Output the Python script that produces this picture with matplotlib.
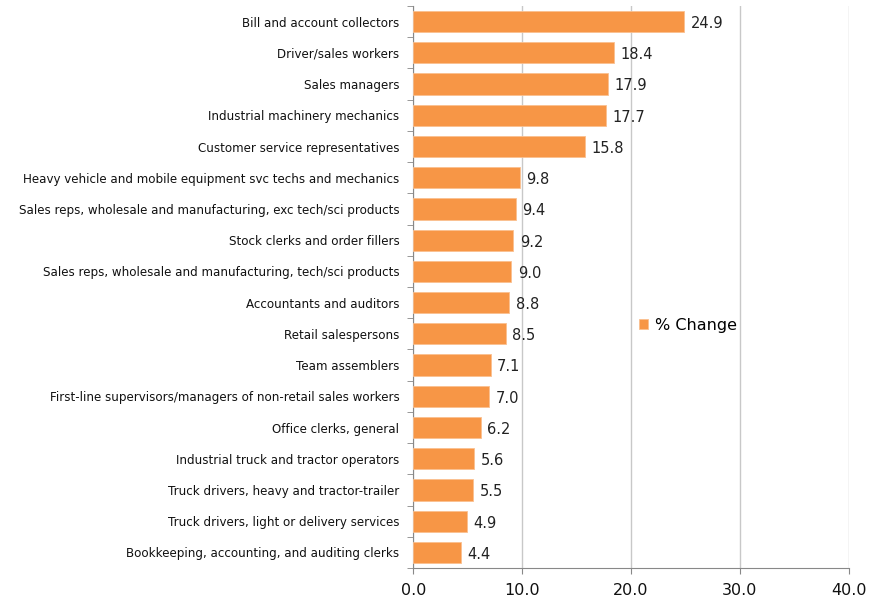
import matplotlib.pyplot as plt
import numpy as np

occupations = [
    "Bill and account collectors",
    "Driver/sales workers",
    "Sales managers",
    "Industrial machinery mechanics",
    "Customer service representatives",
    "Heavy vehicle and mobile equipment svc techs and mechanics",
    "Sales reps, wholesale and manufacturing, exc tech/sci products",
    "Stock clerks and order fillers",
    "Sales reps, wholesale and manufacturing, tech/sci products",
    "Accountants and auditors",
    "Retail salespersons",
    "Team assemblers",
    "First-line supervisors/managers of non-retail sales workers",
    "Office clerks, general",
    "Industrial truck and tractor operators",
    "Truck drivers, heavy and tractor-trailer",
    "Truck drivers, light or delivery services",
    "Bookkeeping, accounting, and auditing clerks",
]
pct_change = [24.9, 18.4, 17.9, 17.7, 15.8, 9.8, 9.4, 9.2, 9.0, 8.8,
              8.5, 7.1, 7.0, 6.2, 5.6, 5.5, 4.9, 4.4]
x_ticks = [0, 10, 20, 30, 40]

bar_color = '#F79646'
axis_color = '#888888'

fig = plt.figure(figsize=(8.81, 6.03), dpi=100)
ax = fig.add_axes([0.469, 0.058, 0.4946, 0.932])

y = np.arange(len(occupations))
ax.barh(y, pct_change, height=0.68, color=bar_color, edgecolor='#FAC090',
        linewidth=0.6, label='% Change', zorder=3)

# value labels to the right of each bar
for yi, v in zip(y, pct_change):
    ax.text(v + 0.6, yi + 0.06, f"{v:.1f}", va='center', ha='left', fontsize=10.5,
            color='#222222')

ax.set_ylim(len(occupations) - 0.5, -0.5)
ax.set_xlim(0, 40)
ax.set_yticks(y)
ax.set_yticklabels(occupations, fontsize=8.6, color='#111111')
ax.set_yticks(np.arange(-0.5, len(occupations)), minor=True)
ax.tick_params(axis='y', which='major', length=0, pad=10)
ax.tick_params(axis='y', which='minor', length=4, color=axis_color)

ax.set_xticks(x_ticks)
ax.set_xticklabels([f"{t:.1f}" for t in x_ticks], fontsize=11.5, color='#111111')
ax.tick_params(axis='x', length=4, color=axis_color, pad=7)

ax.grid(axis='x', color='#C8C8C8', linewidth=1, zorder=0)
for s in ['top', 'right']:
    ax.spines[s].set_visible(False)
for s in ['left', 'bottom']:
    ax.spines[s].set_color(axis_color)

ax.legend(loc='center', bbox_to_anchor=(0.63, 0.432), frameon=False, fontsize=11.5,
          handlelength=0.6, handleheight=0.6, handletextpad=0.4)

fig.savefig('out.png', dpi=100)
